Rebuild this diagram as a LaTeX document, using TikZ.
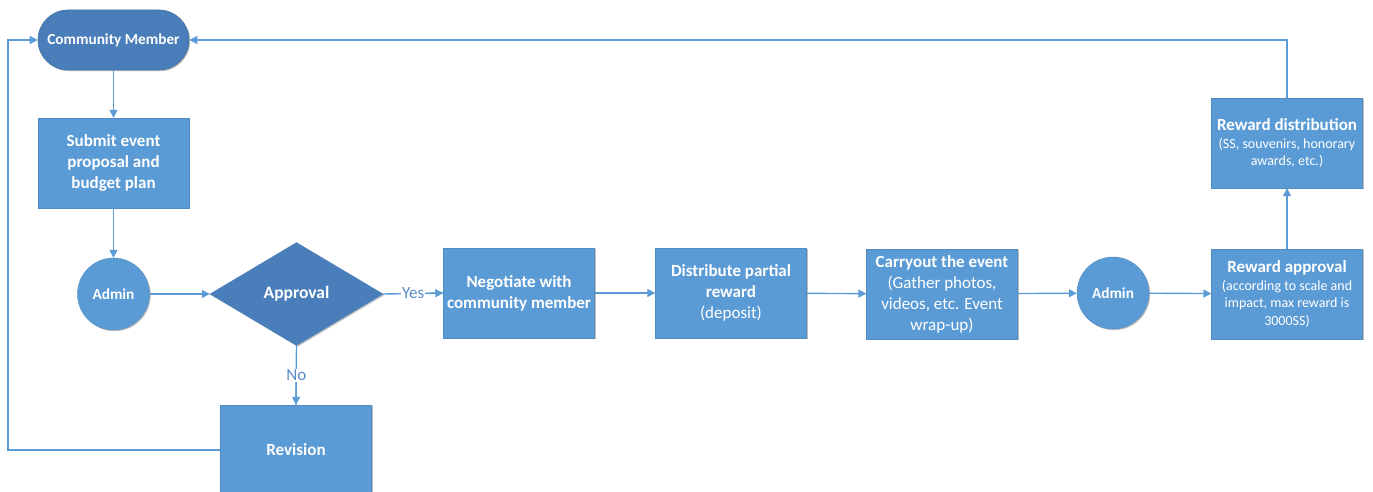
\documentclass[tikz,border=0pt]{standalone}
\usepackage{fontspec}
\setmainfont{Carlito}
\usetikzlibrary{shapes.geometric,arrows.meta,shadows}
\definecolor{boxblue}{HTML}{5B9BD5}
\definecolor{darkblue}{HTML}{4A7EBB}
\definecolor{edgeblue}{HTML}{41719C}
\definecolor{lineblue}{HTML}{5B9BD5}
\definecolor{lblblue}{HTML}{5A8BC4}
\begin{document}
\begin{tikzpicture}[x=1pt,y=-1pt,
  shade/.style={drop shadow={shadow xshift=1.2pt,shadow yshift=-1.2pt,opacity=0.25,fill=black}},
  procbox/.style={rectangle,fill=boxblue,draw=boxblue!90!black,line width=0.4pt,minimum width=151pt,minimum height=90pt,inner sep=2pt,align=center,text=white,font=\fontsize{17}{21}\selectfont,shade},
  smallbox/.style={procbox,font=\fontsize{14}{17.5}\selectfont},
  termbox/.style={rectangle,rounded corners=30pt,fill=darkblue,draw=edgeblue,line width=0.6pt,minimum width=151pt,minimum height=60pt,inner sep=0pt,text=white,font=\fontsize{15.3}{18}\selectfont\bfseries,shade},
  adminc/.style={circle,fill=boxblue,draw=boxblue!90!black,line width=0.4pt,minimum size=72pt,inner sep=0pt,text=white,font=\fontsize{15.3}{18}\selectfont\bfseries,shade},
  decis/.style={diamond,fill=darkblue,draw=darkblue,minimum width=173pt,minimum height=103pt,inner sep=0pt,text=white,font=\fontsize{17.5}{20}\selectfont\bfseries,shade},
  flow/.style={draw=lineblue,line width=1.4pt,-{Triangle[length=8pt,width=8pt]}},
  link/.style={draw=lineblue,line width=1.4pt},
  lbl/.style={fill=white,inner sep=1pt,text=lblblue,font=\fontsize{17}{19}\selectfont}
]
\useasboundingbox (0,0) rectangle (1373,492);

\node[termbox] (cm) at (113.5,40) {Community Member};
\node[procbox] (submit) at (113.5,163) {\textbf{Submit event}\\\textbf{proposal and}\\\textbf{budget plan}};
\node[adminc] (admin1) at (113.5,294) {Admin};
\node[decis] (appr) at (296.5,294) {Approval};
\node[procbox] (nego) at (519,293) {\textbf{Negotiate with}\\\textbf{community member}};
\node[procbox] (dist) at (731,293) {\textbf{Distribute partial}\\\textbf{reward}\\(deposit)};
\node[procbox] (carry) at (942,294) {\textbf{Carryout the event}\\(Gather photos,\\videos, etc. Event\\wrap-up)};
\node[adminc] (admin2) at (1113,293) {Admin};
\node[smallbox] (rapp) at (1287,294) {{\fontsize{17}{17.5}\selectfont\textbf{Reward approval}}\\(according to scale and\\impact, max reward is\\3000SS)};
\node[smallbox] (rdist) at (1287,143) {{\fontsize{17}{17.5}\selectfont\textbf{Reward distribution}}\\(SS, souvenirs, honorary\\awards, etc.)};
\node[procbox] (rev) at (296,450) {\textbf{Revision}};

\coordinate (topR) at (1287,40);
\coordinate (revL) at (8,450);
\coordinate (cmL) at (8,40);

\draw[flow] (cm) -- (submit);
\draw[flow] (submit) -- (admin1);
\draw[flow] (admin1) -- (appr);
\draw[link] (appr.east) -- node[lbl,pos=0.5] (yes) {Yes} (nego.west);
\draw[flow] (yes.east) -- (nego.west);
\draw[link] (appr.south) -- node[lbl,pos=0.5] (no) {No} (rev.north);
\draw[flow] (no.south) -- (rev.north);
\draw[flow] (nego) -- (dist);
\draw[flow] (dist) -- (carry);
\draw[flow] (carry) -- (admin2);
\draw[flow] (admin2) -- (rapp);
\draw[flow] (rapp) -- (rdist);
\draw[flow] (rdist.north) -- (topR) -- (cm.east);
\draw[flow] (rev.west) -- (revL) -- (cmL) -- (cm.west);
\end{tikzpicture}
\end{document}
